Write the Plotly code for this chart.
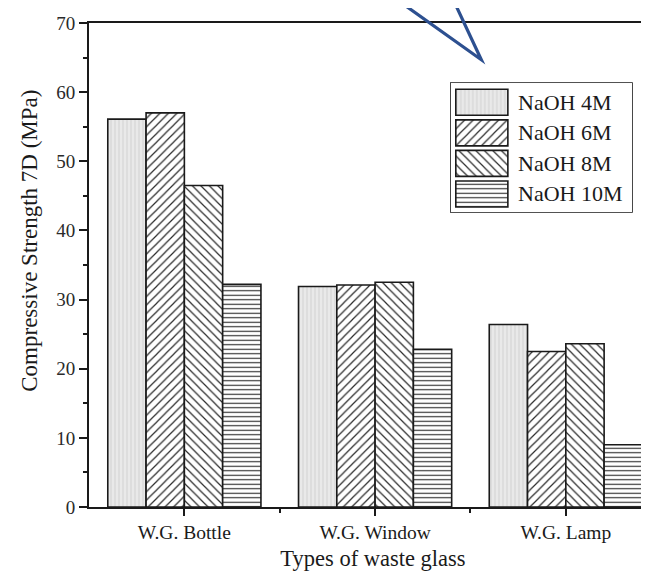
import plotly.graph_objects as go

# ---------------- data ----------------
categories = ["W.G. Bottle", "W.G. Window", "W.G. Lamp"]
series_names = ["NaOH 4M", "NaOH 6M", "NaOH 8M", "NaOH 10M"]
naoh_4m = [56.1, 31.9, 26.4]
naoh_6m = [57.0, 32.1, 22.5]
naoh_8m = [46.5, 32.5, 23.6]
naoh_10m = [32.2, 22.8, 9.0]
series_values = [naoh_4m, naoh_6m, naoh_8m, naoh_10m]
y_ticks = [0, 10, 20, 30, 40, 50, 60, 70]

# ---------------- styles ----------------
FONT = "Liberation Serif, Times New Roman, serif"
patterns = [
    dict(shape="|", bgcolor="#e9e9e9", fgcolor="#d2d2d2", size=4, solidity=0.25, fillmode="replace"),
    dict(shape="/", bgcolor="white", fgcolor="#2a2a2a", size=6, solidity=0.2, fillmode="replace"),
    dict(shape="\\", bgcolor="white", fgcolor="#2a2a2a", size=6, solidity=0.2, fillmode="replace"),
    dict(shape="-", bgcolor="white", fgcolor="#2a2a2a", size=4.5, solidity=0.25, fillmode="replace"),
]
outline = dict(color="#1a1a1a", width=1.6)

x_pos = list(range(len(categories)))

fig = go.Figure()
for name, vals, pat in zip(series_names, series_values, patterns):
    fig.add_trace(go.Bar(
        x=x_pos, y=vals, name=name, showlegend=False,
        marker=dict(color=pat["bgcolor"], pattern=pat, line=outline),
        xaxis="x", yaxis="y",
    ))

# custom legend drawn on a small helper axis (larger pattern swatches)
legend_len = 1
for i, (name, pat) in enumerate(zip(series_names, patterns)):
    fig.add_trace(go.Bar(
        x=[legend_len], y=[i], base=0, orientation="h", width=0.85, offset=-0.425,
        marker=dict(color=pat["bgcolor"], pattern=pat, line=outline),
        showlegend=False, hoverinfo="skip", xaxis="x2", yaxis="y2",
    ))
    fig.add_annotation(
        x=1.154, y=i, xref="x2", yref="y2", text=name, showarrow=False,
        xanchor="left", yanchor="middle", font=dict(family=FONT, size=22, color="#1a1a1a"),
    )

fig.add_shape(type="rect", xref="x2 domain", yref="y2 domain", x0=0, x1=1, y0=0, y1=1,
              line=dict(color="#1a1a1a", width=1.6), fillcolor="rgba(0,0,0,0)", layer="below")

# blue V overlay
fig.add_shape(type="path", xref="paper", yref="paper",
              path="M 0.552,1.04 L 0.6907,0.924 L 0.6445,1.04",
              line=dict(color="#2d5090", width=3.2), fillcolor="rgba(0,0,0,0)")

# y-axis title as annotation
fig.add_annotation(
    x=-0.104, y=0.55, xref="paper", yref="paper", text="Compressive Strength 7D (MPa)",
    textangle=-90, showarrow=False, xanchor="center", yanchor="middle",
    font=dict(family=FONT, size=23, color="#1a1a1a"),
)

fig.update_layout(
    width=649, height=574,
    margin=dict(l=81, r=0, t=15, b=75),
    paper_bgcolor="white", plot_bgcolor="white",
    barmode="group", bargap=0.197, bargroupgap=0,
    font=dict(family=FONT, color="#1a1a1a"),
    xaxis=dict(
        range=[-0.5, 2.478], tickvals=x_pos, ticktext=categories,
        ticks="outside", ticklen=7, tickwidth=1.5, tickcolor="#1a1a1a",
        minor=dict(tickvals=[0.5, 1.5], ticks="outside", ticklen=4, tickwidth=1.5, tickcolor="#1a1a1a"),
        showline=True, linecolor="#1a1a1a", linewidth=1.8, mirror=True,
        showgrid=False, zeroline=False,
        tickfont=dict(family=FONT, size=19.5, color="#1a1a1a"),
        title=dict(text="Types of waste glass", font=dict(family=FONT, size=22.5, color="#1a1a1a"), standoff=8),
    ),
    yaxis=dict(
        range=[0, 70], tickvals=y_ticks,
        ticks="outside", ticklen=8, tickwidth=1.5, tickcolor="#1a1a1a",
        minor=dict(dtick=5, ticks="outside", ticklen=4, tickwidth=1.5, tickcolor="#1a1a1a"),
        showline=True, linecolor="#1a1a1a", linewidth=1.8, mirror=False,
        showgrid=False, zeroline=False,
        tickfont=dict(family=FONT, size=19, color="#2a2a2a"),
    ),
    xaxis2=dict(domain=[0.637, 0.956], range=[-0.096, 3.385], anchor="y2", visible=False, fixedrange=True),
    yaxis2=dict(domain=[0.6095, 0.876], range=[3.59, -0.63], anchor="x2", visible=False, fixedrange=True),
    showlegend=False,
)

fig.write_html("out.html")
